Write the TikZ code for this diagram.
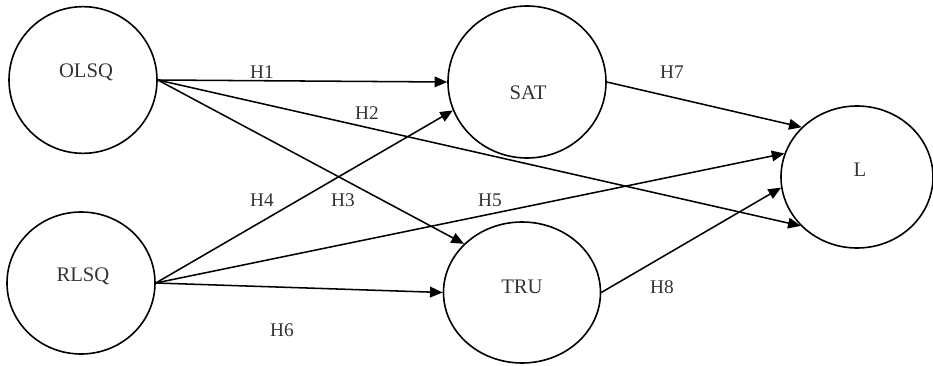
\documentclass[tikz,border=0pt]{standalone}
\usepackage{fontspec}
\setmainfont{Liberation Serif}
\usetikzlibrary{shapes.geometric,arrows.meta}
\begin{document}
\begin{tikzpicture}[x=0.75pt,y=0.75pt,
  construct/.style={draw=black,ellipse,line width=1.2pt,inner sep=0pt},
  cname/.style={text=black!80,font=\fontsize{15.5}{18}\selectfont,inner sep=0pt},
  hlabel/.style={text=black!80,font=\fontsize{14.5}{17}\selectfont,inner sep=0pt},
  hpath/.style={draw=black,line width=1.15pt,-{Triangle[length=9.5pt,width=8pt]}}]
\useasboundingbox (0,0) rectangle (933,365);
% latent constructs (sizes in pt)
\node[construct,minimum width=111pt,minimum height=110pt] (olsq) at (83,285) {};
\node[construct,minimum width=118.5pt,minimum height=114pt] (sat) at (527,283) {};
\node[construct,minimum width=114pt,minimum height=106.5pt] (l) at (857,188) {};
\node[construct,minimum width=111pt,minimum height=106.5pt] (rlsq) at (81,82) {};
\node[construct,minimum width=117.75pt,minimum height=105.75pt] (tru) at (522,72.5) {};
% construct names
\node[cname] (tolsq) at (86,293) {OLSQ};
\node[cname] (tsat) at (528,272) {SAT};
\node[cname] (tl) at (860,195) {L};
\node[cname] (trlsq) at (83,89) {RLSQ};
\node[cname] (ttru) at (522,78) {TRU};
% hypothesised paths
\draw[hpath] (olsq.east) -- (sat.west);
\draw[hpath] (olsq.east) -- (l.221);
\draw[hpath] (olsq.east) -- (tru.140);
\draw[hpath] (rlsq.east) -- (sat.201);
\draw[hpath] (rlsq.east) -- (l.162);
\draw[hpath] (rlsq.east) -- (tru.west);
\draw[hpath] (sat.east) -- (l.138);
\draw[hpath] (tru.east) -- (l.188);
% path labels
\node[hlabel] (h1) at (262,293) {H1};
\node[hlabel] (h2) at (367,252) {H2};
\node[hlabel] (h3) at (343,165) {H3};
\node[hlabel] (h4) at (262,165) {H4};
\node[hlabel] (h5) at (490,165) {H5};
\node[hlabel] (h6) at (282,35) {H6};
\node[hlabel] (h7) at (672,293) {H7};
\node[hlabel] (h8) at (662,78) {H8};
\end{tikzpicture}
\end{document}
